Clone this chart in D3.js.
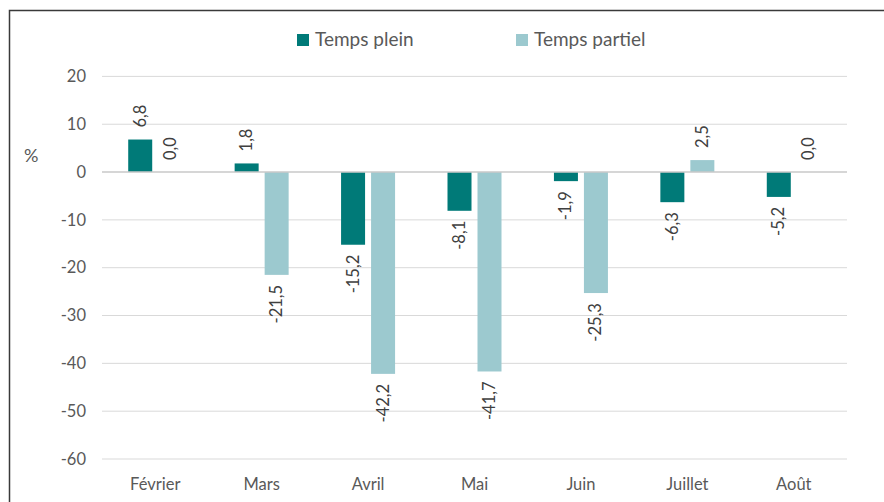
<!DOCTYPE html>
<html>
<head>
<meta charset="utf-8">
<script src="https://cdn.jsdelivr.net/npm/d3@7"></script>
<style>
  body { margin: 0; background: #fff; }
  svg { display: block; font-family: Lato, "Open Sans", sans-serif; }
</style>
</head>
<body>
<svg id="main" width="884" height="502"></svg>
<script>
// data
var months = ["Février", "Mars", "Avril", "Mai", "Juin", "Juillet", "Août"];
var tempsPlein = [6.8, 1.8, -15.2, -8.1, -1.9, -6.3, -5.2];
var tempsPartiel = [0.0, -21.5, -42.2, -41.7, -25.3, 2.5, 0.0];
var seriesNames = ["Temps plein", "Temps partiel"];
var yTicks = [20, 10, 0, -10, -20, -30, -40, -50, -60];

var colors = ["#007A78", "#9CC9CF"];
var textColor = "#595959";

var svg = d3.select("#main");

// frame (only top and left edges are visible)
svg.append("rect")
  .attr("x", 9.5).attr("y", 10.5)
  .attr("width", 1000).attr("height", 1000)
  .style("fill", "none")
  .style("stroke", "#3a3a3a")
  .style("stroke-width", 1.5);

var plot = {left: 102, right: 847, top: 76.4, bottom: 459};

var x = d3.scaleBand()
  .domain(months)
  .range([plot.left, plot.right])
  .padding(0);

var y = d3.scaleLinear()
  .domain([-60, 20])
  .range([plot.bottom, plot.top]);

var barWidth = 24;
var barGap = 3; // half the gap between the two bars of a month

// plain hyphen for negatives, like the reference
function fmtInt(d) { return String(d); }
function fmtVal(d) { return d.toFixed(1).replace(".", ","); }

// gridlines
svg.append("g").selectAll("line")
  .data(yTicks.filter(function(d) { return d !== 0; }))
  .join("line")
  .attr("x1", plot.left).attr("x2", plot.right)
  .attr("y1", function(d) { return y(d); })
  .attr("y2", function(d) { return y(d); })
  .style("stroke", "#D9D9D9")
  .style("stroke-width", 1);

// y axis labels
var yAxis = d3.axisLeft(y).tickValues(yTicks).tickSize(0).tickPadding(0)
  .tickFormat(fmtInt);
var gy = svg.append("g")
  .attr("transform", "translate(86,0)")
  .call(yAxis);
gy.select(".domain").remove();
gy.selectAll("text")
  .style("font-size", "16.5px")
  .style("fill", textColor)
  .style("font-family", "Lato, sans-serif");

svg.append("text")
  .attr("x", 24).attr("y", 162)
  .text("%")
  .style("font-size", "18px")
  .style("fill", textColor);

// bars
var series = [tempsPlein, tempsPartiel];
series.forEach(function(values, si) {
  var g = svg.append("g");
  var offset = si === 0 ? -barGap - barWidth : barGap;

  g.selectAll("rect")
    .data(values)
    .join("rect")
    .attr("x", function(d, i) { return x(months[i]) + x.bandwidth() / 2 + offset; })
    .attr("width", barWidth)
    .attr("y", function(d) { return y(Math.max(0, d)); })
    .attr("height", function(d) { return Math.abs(y(d) - y(0)); })
    .style("fill", colors[si]);

  // rotated value labels
  g.selectAll("text")
    .data(values)
    .join("text")
    .attr("transform", function(d, i) {
      var cx = x(months[i]) + x.bandwidth() / 2 + offset + barWidth / 2;
      var cy = d >= 0 ? y(d) - 12 : y(d) + 10;
      return "translate(" + (cx + 5.5) + "," + cy + ") rotate(-90)";
    })
    .attr("text-anchor", function(d) { return d >= 0 ? "start" : "end"; })
    .text(fmtVal)
    .style("font-size", "16.5px")
    .style("fill", "#404040");
});

// zero line
svg.append("line")
  .attr("x1", plot.left).attr("x2", plot.right)
  .attr("y1", y(0)).attr("y2", y(0))
  .style("stroke", "#C8C8C8")
  .style("stroke-width", 1.5);

// x axis labels
var xAxis = d3.axisBottom(x).tickSize(0).tickPadding(0);
var gx = svg.append("g")
  .attr("transform", "translate(0,478)")
  .call(xAxis);
gx.select(".domain").remove();
gx.selectAll("text")
  .style("font-size", "16.5px")
  .style("fill", textColor)
  .style("font-family", "Lato, sans-serif");

// legend
var legendX = [297, 516];
var legend = svg.append("g").selectAll("g")
  .data(seriesNames)
  .join("g")
  .attr("transform", function(d, i) { return "translate(" + legendX[i] + ",34)"; });
legend.append("rect")
  .attr("width", 12).attr("height", 12)
  .style("fill", function(d, i) { return colors[i]; });
legend.append("text")
  .attr("x", 18).attr("y", 11.5)
  .text(function(d) { return d; })
  .style("font-size", "19px")
  .style("fill", textColor);
</script>
</body>
</html>
